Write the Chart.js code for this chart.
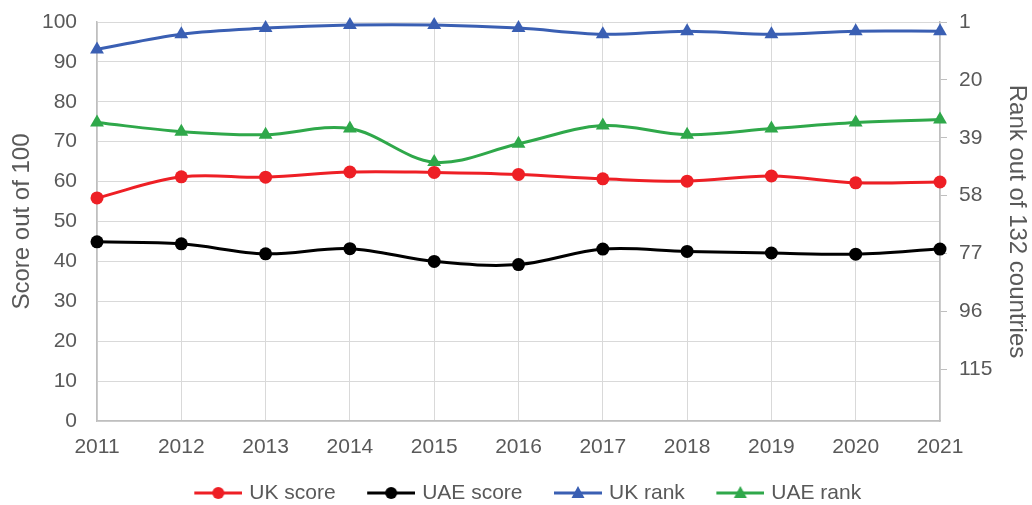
<!DOCTYPE html>
<html>
<head>
<meta charset="utf-8">
<script src="https://cdn.jsdelivr.net/npm/chart.js@4/dist/chart.umd.min.js"></script>
<style>
  body { margin: 0; background: #fff; }
  #wrap { width: 1032px; height: 505px; }
</style>
</head>
<body>
<div id="wrap"><canvas id="chart" width="1032" height="505"></canvas></div>
<script>
// Score and rank, 2011-2021
const years = ['2011', '2012', '2013', '2014', '2015', '2016', '2017', '2018', '2019', '2020', '2021'];
const ukScore = [55.9, 61.2, 61.1, 62.4, 62.3, 61.8, 60.7, 60.1, 61.4, 59.7, 59.9];
const uaeScore = [44.9, 44.4, 41.9, 43.2, 40.0, 39.2, 43.1, 42.5, 42.1, 41.8, 43.1];
const ukRank = [10, 5, 3, 2, 2, 3, 5, 4, 5, 4, 4];
const uaeRank = [34, 37, 38, 36, 47, 41, 35, 38, 36, 34, 33];
const rankTicks = [1, 20, 39, 58, 77, 96, 115];

const FONT = "'Liberation Sans', Arial, sans-serif";
const GREY_TEXT = '#595959';
const GRID = '#d9d9d9';
const AXIS = '#bfbfbf';

const RED = '#ee1f25';
const BLACK = '#000000';
const BLUE = '#3a5fb3';
const GREEN = '#2fa84a';

// legend swatch: blank on the left, then a 48px line with the marker on it
function swatch(color, shape) {
    const c = document.createElement('canvas');
    c.width = 59;
    c.height = 18;
    const ctx = c.getContext('2d');
    ctx.strokeStyle = color;
    ctx.fillStyle = color;
    ctx.lineWidth = 3;
    ctx.beginPath();
    ctx.moveTo(11, 9);
    ctx.lineTo(59, 9);
    ctx.stroke();
    ctx.beginPath();
    if (shape === 'circle') {
        ctx.arc(35, 9, 6, 0, Math.PI * 2);
    } else {
        ctx.moveTo(35, 2);
        ctx.lineTo(41.5, 14);
        ctx.lineTo(28.5, 14);
        ctx.closePath();
    }
    ctx.fill();
    return c;
}

const swatches = [
    swatch(RED, 'circle'),
    swatch(BLACK, 'circle'),
    swatch(BLUE, 'triangle'),
    swatch(GREEN, 'triangle')
];

function series(label, data, color, shape, axis) {
    return {
        label,
        data,
        yAxisID: axis,
        borderColor: color,
        backgroundColor: color,
        borderWidth: 3,
        pointStyle: shape,
        pointRadius: shape === 'circle' ? 6.5 : 8,
        pointBorderWidth: 0,
        pointBackgroundColor: color,
        tension: 0.35,
        clip: false
    };
}

// nudge the legend a little to the right, like the original
const legendShift = {
    id: 'legendShift',
    afterLayout(chart) {
        if (chart.legend) {
            chart.legend.left += 8;
            chart.legend.right += 8;
        }
    }
};

new Chart(document.getElementById('chart'), {
    type: 'line',
    data: {
        labels: years,
        datasets: [
            series('UK score', ukScore, RED, 'circle', 'y'),
            series('UAE score', uaeScore, BLACK, 'circle', 'y'),
            series('UK rank', ukRank, BLUE, 'triangle', 'y2'),
            series('UAE rank', uaeRank, GREEN, 'triangle', 'y2')
        ]
    },
    options: {
        responsive: false,
        animation: false,
        layout: { padding: { top: 22, right: 0, bottom: -8.5, left: 0 } },
        plugins: {
            tooltip: { enabled: false },
            legend: {
                position: 'bottom',
                labels: {
                    usePointStyle: true,
                    pointStyleWidth: 52,
                    padding: 24,
                    color: GREY_TEXT,
                    font: { family: FONT, size: 21 },
                    generateLabels(chart) {
                        const items = Chart.defaults.plugins.legend.labels.generateLabels(chart);
                        items.forEach((it, i) => { it.pointStyle = swatches[it.datasetIndex ?? i]; });
                        return items;
                    }
                }
            }
        },
        scales: {
            x: {
                grid: { color: GRID, drawTicks: false },
                border: { color: AXIS, width: 1.5 },
                ticks: { color: GREY_TEXT, font: { family: FONT, size: 21 }, padding: 14, maxRotation: 0 },
                afterFit(scale) { scale.height = 37.5; }
            },
            y: {
                position: 'left',
                min: 0,
                max: 100,
                grid: { color: GRID, drawTicks: false },
                border: { color: AXIS, width: 1.5 },
                ticks: { stepSize: 10, color: GREY_TEXT, font: { family: FONT, size: 21 }, padding: 20 },
                title: {
                    display: true,
                    text: 'Score out of 100',
                    color: GREY_TEXT,
                    font: { family: FONT, size: 24 },
                    padding: { top: 8, bottom: 0 }
                },
                afterFit(scale) {
                    scale.width = 97;
                    scale.paddingTop = 0;
                    scale.paddingBottom = 0;
                }
            },
            y2: {
                position: 'right',
                reverse: true,
                min: 1,
                max: 132,
                grid: { drawOnChartArea: false, color: AXIS, tickLength: 7 },
                border: { color: AXIS, width: 1.5 },
                ticks: { color: GREY_TEXT, font: { family: FONT, size: 21 }, padding: 12 },
                afterBuildTicks(scale) {
                    scale.ticks = rankTicks.map(v => ({ value: v }));
                },
                title: {
                    display: true,
                    text: 'Rank out of 132 countries',
                    color: GREY_TEXT,
                    font: { family: FONT, size: 24 },
                    padding: { top: 1, bottom: 0 }
                },
                afterFit(scale) {
                    scale.width = 92;
                    scale.paddingTop = 0;
                    scale.paddingBottom = 0;
                }
            }
        }
    },
    plugins: [legendShift]
});
</script>
</body>
</html>
